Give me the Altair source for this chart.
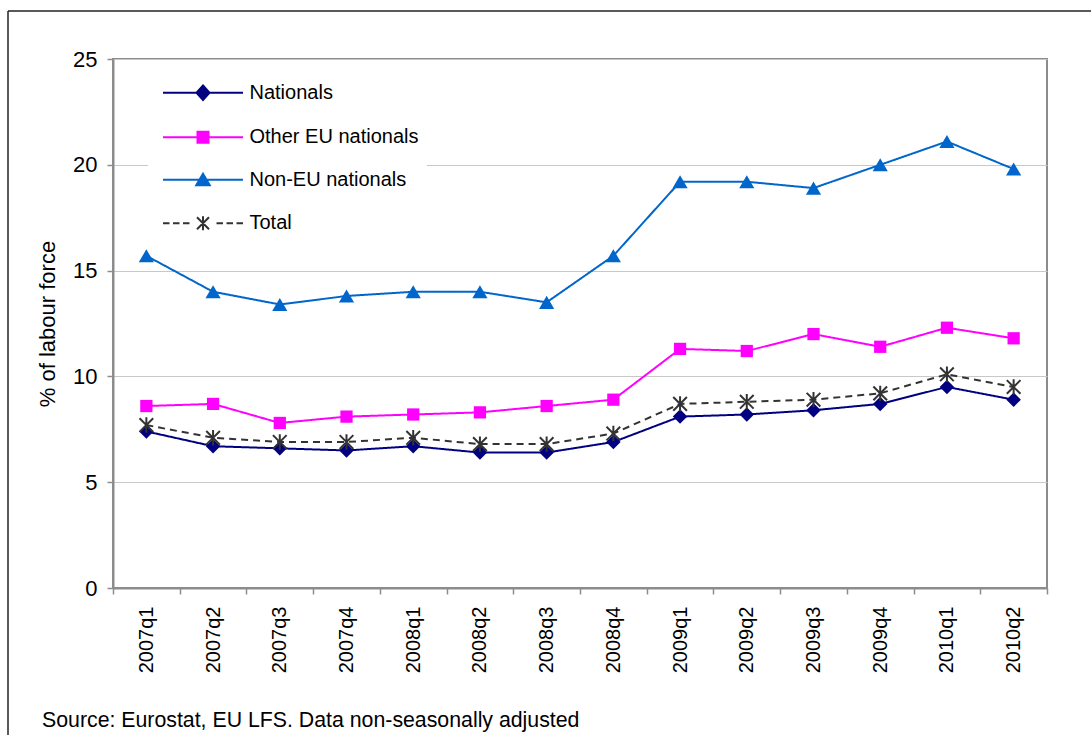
import altair as alt
import pandas as pd

# Unemployment rate by citizenship, % of labour force
quarters = ["2007q1", "2007q2", "2007q3", "2007q4", "2008q1", "2008q2", "2008q3",
            "2008q4", "2009q1", "2009q2", "2009q3", "2009q4", "2010q1", "2010q2"]
nationals = [7.4, 6.7, 6.6, 6.5, 6.7, 6.4, 6.4, 6.9, 8.1, 8.2, 8.4, 8.7, 9.5, 8.9]
other_eu = [8.6, 8.7, 7.8, 8.1, 8.2, 8.3, 8.6, 8.9, 11.3, 11.2, 12.0, 11.4, 12.3, 11.8]
non_eu = [15.7, 14.0, 13.4, 13.8, 14.0, 14.0, 13.5, 15.7, 19.2, 19.2, 18.9, 20.0, 21.1, 19.8]
total = [7.7, 7.1, 6.9, 6.9, 7.1, 6.8, 6.8, 7.3, 8.7, 8.8, 8.9, 9.2, 10.1, 9.5]

series_names = ["Nationals", "Other EU nationals", "Non-EU nationals", "Total"]
series_colors = ["#000080", "#FF00FF", "#0066CC", "#333333"]
y_ticks = [0, 5, 10, 15, 20, 25]
source_note = "Source: Eurostat, EU LFS. Data non-seasonally adjusted"

FONT = "Liberation Sans"
ASTERISK = "M-1.2,-1.2L1.2,1.2M-1.2,1.2L1.2,-1.2M0,-1.35L0,1.35"

# legend keys: a line with the series marker in the middle
legend_paths = [
    "M-8,0L8,0M0,-1.45L1.3,0L0,1.45L-1.3,0Z",
    "M-8,0L8,0M-1.1,-1.1L1.1,-1.1L1.1,1.1L-1.1,1.1Z",
    "M-8,0L8,0M0,-1.2L1.35,1.1L-1.35,1.1Z",
    "M-8,0L-6.7,0M-6,0L-4.7,0M-4,0L-2.7,0M2.7,0L4,0M4.7,0L6,0M6.7,0L8,0"
    "M-1.2,-1.2L1.2,1.2M-1.2,1.2L1.2,-1.2M0,-1.4L0,1.4",
]

rows = []
for name, vals in zip(series_names, [nationals, other_eu, non_eu, total]):
    for q, v in zip(quarters, vals):
        rows.append({"quarter": q, "series": name, "value": v})
df = pd.DataFrame(rows)

x_enc = alt.X(
    "quarter:N", sort=quarters, title=None,
    scale=alt.Scale(type="band", paddingInner=0, paddingOuter=0),
    axis=alt.Axis(labelAngle=270, labelFontSize=20, labelFont=FONT, labelColor="black",
                  tickBand="extent", tickSize=6, tickColor="#8c8c8c", tickWidth=1.5,
                  domainColor="#8c8c8c", domainWidth=2, labelPadding=12, grid=False),
)
y_enc = alt.Y(
    "value:Q", title="% of labour force",
    scale=alt.Scale(domain=[0, 25], nice=False, zero=True),
    axis=alt.Axis(values=y_ticks, labelFontSize=22, labelFont=FONT, labelColor="black",
                  tickSize=6, tickColor="#8c8c8c", tickWidth=1.5, domainColor="#8c8c8c",
                  domainWidth=2, labelPadding=10, gridColor="#c8c8c8", gridWidth=1,
                  titleFontSize=22, titleFont=FONT, titleFontWeight="normal",
                  titleColor="black", titleX=-66, titleY=264.5, titleAngle=270,
                  titleAlign="center", titleBaseline="middle"),
)

base = alt.Chart(df)

series_styles = [
    ("Nationals", "#000080", [1, 0],
     dict(shape="diamond", size=210, filled=True)),
    ("Other EU nationals", "#FF00FF", [1, 0],
     dict(shape="square", size=150, filled=True)),
    ("Non-EU nationals", "#0066CC", [1, 0],
     dict(shape="triangle-up", size=230, filled=True)),
    ("Total", "#333333", [7, 5],
     dict(shape=ASTERISK, size=130, filled=False, strokeWidth=2)),
]

series_layers = []
for name, color, dash, marker in series_styles:
    sub = base.transform_filter(alt.datum.series == name)
    series_layers.append(
        sub.mark_line(color=color, strokeWidth=2, strokeDash=dash).encode(x=x_enc, y=y_enc))
    series_layers.append(
        sub.mark_point(color=color, opacity=1, **marker).encode(x=x_enc, y=y_enc))

legend = alt.Legend(
    title=None, orient="none", legendX=35, legendY=15.7, fillColor="white", padding=8,
    symbolSize=100, symbolStrokeWidth=2, symbolOffset=37, symbolOpacity=1,
    labelOffset=36.5, labelFontSize=20, labelFont=FONT, labelColor="black",
    rowPadding=22.5, labelLimit=400,
)
# invisible marks that carry the legend
legend_layer = base.mark_point(filled=True, opacity=0).encode(
    x=x_enc, y=y_enc,
    fill=alt.Fill("series:N", scale=alt.Scale(domain=series_names, range=series_colors),
                  legend=legend),
    stroke=alt.Stroke("series:N", scale=alt.Scale(domain=series_names, range=series_colors),
                      legend=legend),
    shape=alt.Shape("series:N", scale=alt.Scale(domain=series_names, range=legend_paths),
                    legend=legend),
)

note_df = pd.DataFrame({"note": [source_note]})
note = alt.Chart(note_df).mark_text(
    align="left", baseline="alphabetic", fontSize=21.3, font=FONT, color="black"
).encode(x=alt.value(-71), y=alt.value(668), text="note:N")

# outer chart frame (left and top edges)
frame_df = pd.DataFrame({"edge": ["frame"]})
frame_left = alt.Chart(frame_df).mark_rule(color="#222222", strokeWidth=1.5).encode(
    x=alt.value(-105), y=alt.value(-48), y2=alt.value(700))
frame_top = alt.Chart(frame_df).mark_rule(color="#222222", strokeWidth=1.5).encode(
    x=alt.value(-105), x2=alt.value(990), y=alt.value(-48))

chart = alt.layer(
    frame_left, frame_top, *series_layers, legend_layer, note
).properties(
    width=934, height=529,
    autosize=alt.AutoSizeParams(type="none"),
    padding={"left": 113, "top": 59, "right": 44, "bottom": 147},
    background="white",
).configure_view(
    stroke="#8c8c8c", strokeWidth=2
)

chart.save("out.html", embed_options={"renderer": "svg", "actions": False})
